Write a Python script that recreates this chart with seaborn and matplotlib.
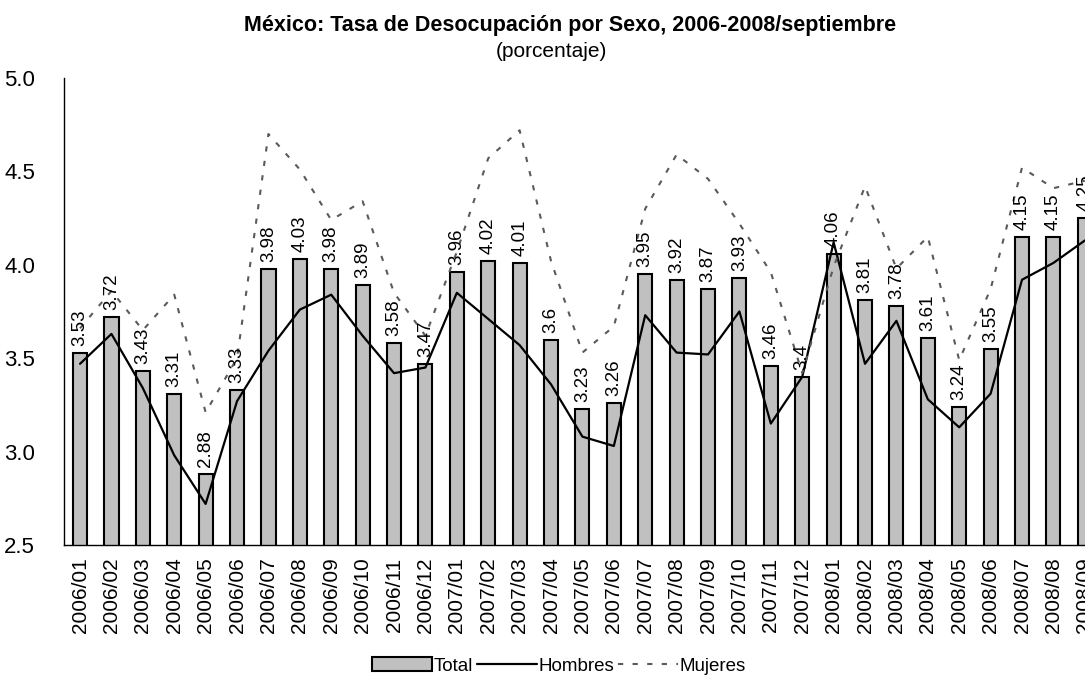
import matplotlib
matplotlib.use("Agg")
import matplotlib.pyplot as plt
import seaborn as sns
import numpy as np
import pandas as pd
from matplotlib.patches import Patch
from matplotlib.lines import Line2D
from matplotlib.ticker import FixedLocator, FormatStrFormatter, NullFormatter

months = ["2006/01", "2006/02", "2006/03", "2006/04", "2006/05", "2006/06",
          "2006/07", "2006/08", "2006/09", "2006/10", "2006/11", "2006/12",
          "2007/01", "2007/02", "2007/03", "2007/04", "2007/05", "2007/06",
          "2007/07", "2007/08", "2007/09", "2007/10", "2007/11", "2007/12",
          "2008/01", "2008/02", "2008/03", "2008/04", "2008/05", "2008/06",
          "2008/07", "2008/08", "2008/09"]

total = [3.53, 3.72, 3.43, 3.31, 2.88, 3.33, 3.98, 4.03, 3.98, 3.89, 3.58, 3.47,
         3.96, 4.02, 4.01, 3.6, 3.23, 3.26, 3.95, 3.92, 3.87, 3.93, 3.46, 3.4,
         4.06, 3.81, 3.78, 3.61, 3.24, 3.55, 4.15, 4.15, 4.25]

hombres = [3.47, 3.63, 3.34, 2.98, 2.72, 3.27, 3.54, 3.76, 3.84, 3.62, 3.42, 3.45,
           3.85, 3.71, 3.57, 3.36, 3.08, 3.03, 3.73, 3.53, 3.52, 3.75, 3.15, 3.40,
           4.12, 3.47, 3.70, 3.28, 3.13, 3.31, 3.92, 4.01, 4.13]

mujeres = [3.66, 3.86, 3.65, 3.84, 3.21, 3.50, 4.70, 4.51, 4.24, 4.34, 3.85, 3.62,
           4.07, 4.57, 4.72, 4.02, 3.53, 3.67, 4.30, 4.59, 4.46, 4.22, 3.96, 3.42,
           3.99, 4.42, 3.98, 4.15, 3.49, 3.87, 4.52, 4.41, 4.45]

yticks = [2.5, 3.0, 3.5, 4.0, 4.5, 5.0]

sns.set_theme(style="white")
plt.rcParams["font.family"] = ["Liberation Sans", "DejaVu Sans"]
plt.rcParams["text.color"] = "black"
plt.rcParams["xtick.color"] = "black"
plt.rcParams["ytick.color"] = "black"

fig = plt.figure(figsize=(10.85, 6.81), dpi=100)
ax = fig.add_axes([0.0593, 0.1997, 0.955, 0.6858])

df = pd.DataFrame({"mes": months, "total": total})
sns.barplot(data=df, x="mes", y="total", ax=ax, color="#C0C0C0",
            edgecolor="black", linewidth=1.5, width=0.45, saturation=1)

pos = np.arange(len(months))
sns.lineplot(x=pos, y=hombres, ax=ax, color="black", linewidth=1.6, sort=False)
sns.lineplot(x=pos, y=mujeres, ax=ax, color="#5a5a5a", linewidth=1.5, sort=False,
             linestyle=(0, (2.5, 4.5)))

labels = [f"{v:g}" for v in total]
ax.bar_label(ax.containers[0], labels=labels, rotation=90, padding=5,
             fontsize=13.5, color="black")

ax.set_ylim(2.5, 5.0)
ax.set_xlim(-0.5, len(months) - 0.5)
ax.set_yticks(yticks)
ax.yaxis.set_major_formatter(FormatStrFormatter("%.1f"))
ax.set_xticks(pos)
ax.set_xticklabels(months, rotation=90, fontsize=15)
ax.xaxis.set_minor_locator(FixedLocator(np.arange(-0.5, len(months), 1.0)))
ax.xaxis.set_minor_formatter(NullFormatter())
ax.tick_params(axis="x", which="major", length=0, pad=9, labelcolor="black")
ax.tick_params(axis="x", which="minor", length=6, width=1, color="black", direction="out")
ax.tick_params(axis="y", which="major", length=5, width=1, color="black",
               direction="out", labelsize=16, pad=16, labelcolor="black")
ax.set_xlabel("")
ax.set_ylabel("")
for s in ["top", "right"]:
    ax.spines[s].set_visible(False)
for s in ["left", "bottom"]:
    ax.spines[s].set_color("black")
    ax.spines[s].set_linewidth(1.0)
ax.grid(False)

fig.text(0.525, 0.962, "México: Tasa de Desocupación por Sexo, 2006-2008/septiembre",
         ha="center", va="center", fontsize=15.5, fontweight="bold", color="black")
fig.text(0.508, 0.925, "(porcentaje)", ha="center", va="center", fontsize=15,
         color="black")

handles = [Patch(facecolor="#C0C0C0", edgecolor="black", linewidth=1.5),
           Line2D([0], [0], color="black", linewidth=1.6),
           Line2D([0], [0], color="#5a5a5a", linewidth=1.5, linestyle=(0, (2.5, 4.5)))]
leg = fig.legend(handles, ["Total", "Hombres", "Mujeres"], loc="center",
                 bbox_to_anchor=(0.515, 0.022), ncol=3, frameon=False, fontsize=13.5,
                 handlelength=3.2, handletextpad=0.1, columnspacing=0.2,
                 handleheight=0.7)
for t in leg.get_texts():
    t.set_color("black")

fig.savefig("out.png", dpi=100)
